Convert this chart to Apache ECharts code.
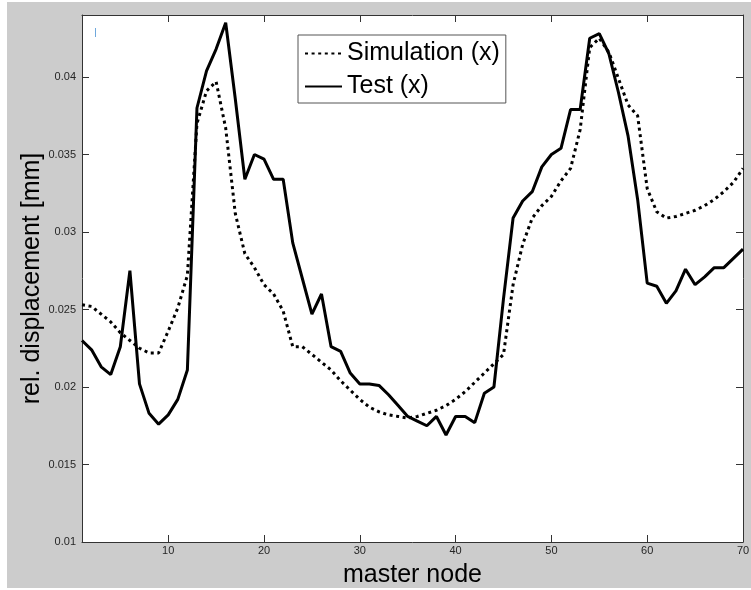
<!DOCTYPE html>
<html><head><meta charset="utf-8">
<script src="https://cdn.jsdelivr.net/npm/echarts@6/dist/echarts.min.js"></script>
<style>
html,body{margin:0;padding:0;background:#fff;}
#bg{position:absolute;left:7px;top:2px;width:744px;height:586px;background:#cccccc;}
#c{position:absolute;left:0;top:0;width:751px;height:590px;}
</style>
</head><body>
<div id="bg"></div>
<div id="c"></div>
<script>
const nodes = Array.from({length: 70}, (_, i) => i + 1);
const simulation = [
  0.0253, 0.0252, 0.0247, 0.0242, 0.0235, 0.0230, 0.0225, 0.0222, 0.0222, 0.0236,
  0.0251, 0.0272, 0.0370, 0.0391, 0.0397, 0.0367, 0.0312, 0.0286, 0.0277, 0.0266,
  0.0260, 0.0249, 0.0226, 0.0226, 0.0221, 0.0216, 0.0211, 0.0204, 0.0198, 0.0192,
  0.0187, 0.0184, 0.0182, 0.0181, 0.0180, 0.0181, 0.0183, 0.0185, 0.0188, 0.0192,
  0.0197, 0.0203, 0.0209, 0.0215, 0.0221, 0.0266, 0.0292, 0.0309, 0.0317, 0.0323,
  0.0333, 0.0341, 0.0366, 0.0419, 0.0425, 0.0416, 0.0399, 0.0382, 0.0375, 0.0328,
  0.0313, 0.0309, 0.0310, 0.0312, 0.0314, 0.0317, 0.0321, 0.0326, 0.0332, 0.0341
];
const test = [
  0.0230, 0.0224, 0.0213, 0.0208, 0.0226, 0.0275, 0.0202, 0.0183, 0.0176, 0.0182,
  0.0192, 0.0211, 0.0380, 0.0404, 0.0418, 0.0435, 0.0386, 0.0334, 0.0350, 0.0347,
  0.0334, 0.0334, 0.0293, 0.0270, 0.0247, 0.0260, 0.0226, 0.0223, 0.0209, 0.0202,
  0.0202, 0.0201, 0.0195, 0.0188, 0.0181, 0.0178, 0.0175, 0.0181, 0.0169, 0.0181,
  0.0181, 0.0177, 0.0196, 0.0200, 0.0257, 0.0309, 0.0320, 0.0326, 0.0342, 0.0350,
  0.0354, 0.0379, 0.0379, 0.0425, 0.0428, 0.0415, 0.0390, 0.0362, 0.0321, 0.0267,
  0.0265, 0.0254, 0.0262, 0.0276, 0.0266, 0.0271, 0.0277, 0.0277, 0.0283, 0.0289
];
const xTicks = [10, 20, 30, 40, 50, 60, 70];
const yTicks = [0.01, 0.015, 0.02, 0.025, 0.03, 0.035, 0.04];
const yTickLabels = ['0.01', '0.015', '0.02', '0.025', '0.03', '0.035', '0.04'];
const seriesNames = ['Simulation (x)', 'Test (x)'];

const FONT = '"Liberation Sans", Arial, sans-serif';
const AX = '#333333';
const X_MIN = 1, X_MAX = 70, Y_MIN = 0.01, Y_MAX = 0.044;

function yLabel(v) {
  for (let i = 0; i < yTicks.length; i++) {
    if (Math.abs(yTicks[i] - v) < 1e-9) return yTickLabels[i];
  }
  return '';
}

const chart = echarts.init(document.getElementById('c'), null, {renderer: 'canvas'});
chart.setOption({
  backgroundColor: 'transparent',
  animation: false,
  grid: {left: 82, right: 8, top: 15, bottom: 48, show: true, backgroundColor: '#fff', borderWidth: 0,
         containLabel: false, outerBoundsMode: 'none'},
  graphic: [{
    type: 'line', shape: {x1: 95.5, y1: 28, x2: 95.5, y2: 37},
    style: {stroke: '#6fa8dc', lineWidth: 1}, silent: true
  }],
  legend: {
    orient: 'vertical', left: 298, top: 35,
    padding: [6, 6, 4, 6], itemGap: 8, itemWidth: 37, itemHeight: 14,
    backgroundColor: '#fff', borderColor: '#555', borderWidth: 1,
    itemStyle: {opacity: 0},
    textStyle: {fontFamily: FONT, fontSize: 25, color: '#000', lineHeight: 25},
    data: seriesNames
  },
  xAxis: [{
    type: 'value', position: 'bottom', min: X_MIN, max: X_MAX,
    name: 'master node', nameLocation: 'middle', nameGap: 21, nameMoveOverlap: false,
    nameTextStyle: {fontFamily: FONT, fontSize: 25, color: '#000'},
    axisLine: {show: true, onZero: false, lineStyle: {color: AX, width: 1}},
    axisTick: {show: true, inside: true, length: 7, customValues: xTicks, lineStyle: {color: AX}},
    axisLabel: {show: true, customValues: xTicks, fontFamily: FONT, fontSize: 11, color: '#262626', margin: 3},
    splitLine: {show: false}
  }, {
    type: 'value', position: 'top', min: X_MIN, max: X_MAX,
    axisLine: {show: true, onZero: false, lineStyle: {color: AX, width: 1}},
    axisTick: {show: true, inside: true, length: 7, customValues: xTicks, lineStyle: {color: AX}},
    axisLabel: {show: false},
    splitLine: {show: false}
  }],
  yAxis: [{
    type: 'value', position: 'left', min: Y_MIN, max: Y_MAX,
    name: 'rel. displacement [mm]', nameLocation: 'middle', nameGap: 37, nameMoveOverlap: false,
    nameTextStyle: {fontFamily: FONT, fontSize: 25, color: '#000'},
    axisLine: {show: true, onZero: false, lineStyle: {color: AX, width: 1}},
    axisTick: {show: true, inside: true, length: 7, customValues: yTicks, lineStyle: {color: AX}},
    axisLabel: {show: true, customValues: yTicks, formatter: yLabel, fontFamily: FONT, fontSize: 11, color: '#262626', margin: 6},
    splitLine: {show: false}
  }, {
    type: 'value', position: 'right', min: Y_MIN, max: Y_MAX,
    axisLine: {show: true, onZero: false, lineStyle: {color: AX, width: 1}},
    axisTick: {show: true, inside: true, length: 7, customValues: yTicks, lineStyle: {color: AX}},
    axisLabel: {show: false},
    splitLine: {show: false}
  }],
  series: [{
    name: seriesNames[0], type: 'line', xAxisIndex: 0, yAxisIndex: 0,
    data: nodes.map((n, i) => [n, simulation[i]]),
    symbol: 'none', showSymbol: false, smooth: false,
    lineStyle: {color: '#000', width: 3, type: [3, 3.6], cap: 'butt'},
    itemStyle: {color: '#000'}
  }, {
    name: seriesNames[1], type: 'line', xAxisIndex: 0, yAxisIndex: 0,
    data: nodes.map((n, i) => [n, test[i]]),
    symbol: 'none', showSymbol: false, smooth: false,
    lineStyle: {color: '#000', width: 3, type: 'solid'},
    itemStyle: {color: '#000'}
  }]
});
</script>
</body></html>
